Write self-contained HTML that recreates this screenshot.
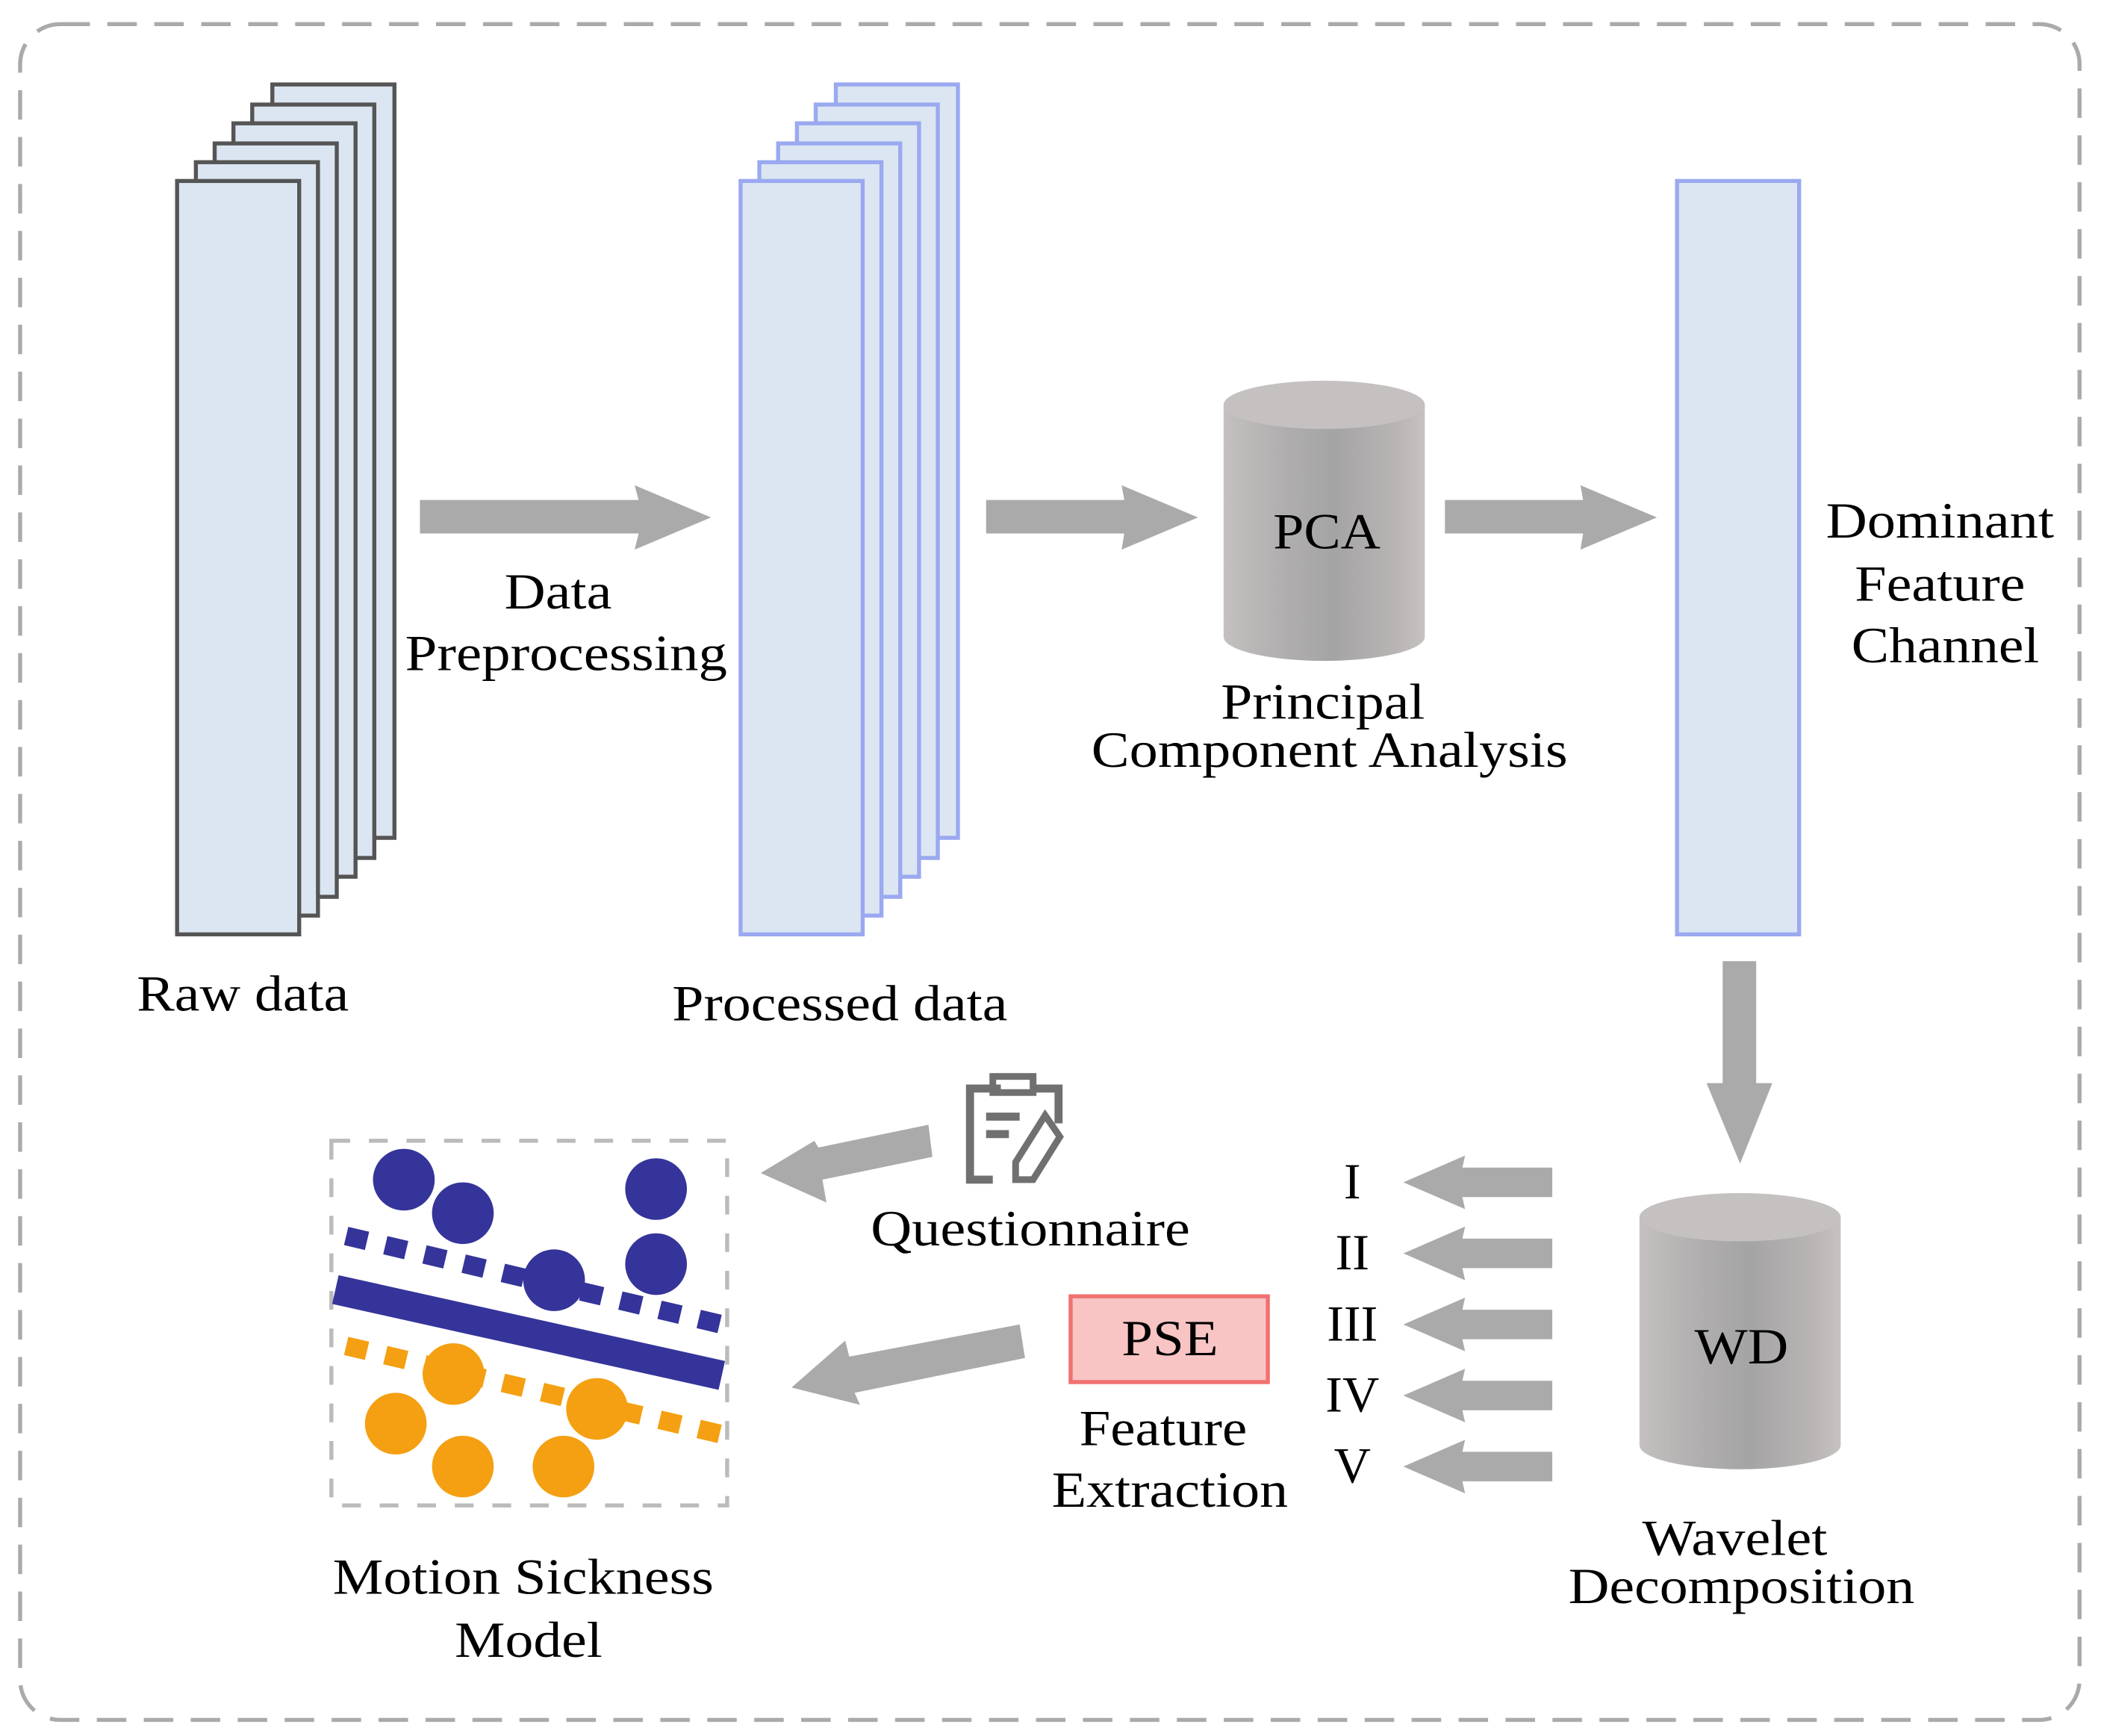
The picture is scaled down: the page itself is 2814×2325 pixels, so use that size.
<!DOCTYPE html>
<html><head><meta charset="utf-8"><style>html,body{margin:0;padding:0;background:#fff}svg{display:block}</style></head>
<body>
<svg width="2814" height="2325" viewBox="0 0 1566 1295" preserveAspectRatio="none" xmlns="http://www.w3.org/2000/svg">
<defs>
<linearGradient id="cyl" x1="0" x2="1" y1="0" y2="0">
<stop offset="0" stop-color="#c4c0c0"/><stop offset="0.3" stop-color="#b0aeae"/><stop offset="0.55" stop-color="#a5a4a5"/><stop offset="0.85" stop-color="#b8b4b4"/><stop offset="1" stop-color="#c6c2c2"/>
</linearGradient>
</defs>
<rect x="15" y="18" width="1535" height="1265" rx="30" fill="none" stroke="#aaa" stroke-width="3" stroke-dasharray="22,13"/>
<g fill="#dce6f2" stroke="#555" stroke-width="3">
<rect x="203" y="63" width="91" height="562"/><rect x="188" y="78" width="91" height="562"/><rect x="174" y="92" width="91" height="562"/><rect x="160" y="107" width="91" height="562"/><rect x="146" y="121" width="91" height="562"/><rect x="132" y="135" width="91" height="562"/>
</g>
<g fill="#dce6f2" stroke="#9aa9f0" stroke-width="3">
<rect x="623" y="63" width="91" height="562"/><rect x="608" y="78" width="91" height="562"/><rect x="594" y="92" width="91" height="562"/><rect x="580" y="107" width="91" height="562"/><rect x="566" y="121" width="91" height="562"/><rect x="552" y="135" width="91" height="562"/>
<rect x="1250" y="135" width="91" height="562"/>
</g>
<g fill="#aaaaaa">
<polygon points="313,373 476,373 473,362 530,386 473,410 476,398 313,398"/>
<polygon points="735,373 838,373 836,362 893,386 836,410 838,398 735,398"/>
<polygon points="1077,373 1180,373 1178,362 1235,386 1178,410 1180,398 1077,398"/>
<polygon points="1284,717 1309,717 1309,808 1321,808 1297,868 1272,808 1284,808"/>
<g id="la"><polygon points="1157,871 1090,871 1092,862 1046,882 1092,902 1090,893 1157,893"/></g>
<use href="#la" y="53"/><use href="#la" y="106"/><use href="#la" y="159"/><use href="#la" y="212"/>
<polygon points="692,839 695,863 613,880 616,897 567,875 607,851 610,856"/>
<polygon points="760,988 764,1013 637,1039 641,1048 590,1035 630,1000 633,1012"/>
</g>
<path d="M912,302 L912,475 A75,18 0 0 0 1062,475 L1062,302 Z" fill="url(#cyl)"/>
<ellipse cx="987" cy="302" rx="75" ry="18" fill="#c5c1c1"/>
<path d="M1222,908 L1222,1078 A75,18 0 0 0 1372,1078 L1372,908 Z" fill="url(#cyl)"/>
<ellipse cx="1297" cy="908" rx="75" ry="18" fill="#c5c1c1"/>
<g fill="none" stroke="#707070" stroke-width="6">
<path d="M746,812 L723,812 L723,880 L740,880"/><path d="M770,812 L789,812 L789,838"/>
<rect x="740" y="803" width="30" height="12" stroke-width="5"/>
<line x1="735" y1="833" x2="760" y2="833"/><line x1="735" y1="846" x2="752" y2="846"/>
<path d="M779,832 L790,848 L770,880 L757,880 L757,867 Z" stroke-width="5"/>
</g>
<rect x="798" y="967" width="147" height="64" fill="#f8c4c4" stroke="#f07070" stroke-width="3"/>
<rect x="247" y="851" width="295" height="272" fill="none" stroke="#bbb" stroke-width="3" stroke-dasharray="14,14"/>
<line x1="258" y1="922" x2="538" y2="988" stroke="#35349a" stroke-width="14" stroke-dasharray="16,14"/>
<line x1="250" y1="962" x2="538" y2="1026" stroke="#35349a" stroke-width="22"/>
<line x1="258" y1="1004" x2="538" y2="1070" stroke="#f4a012" stroke-width="14" stroke-dasharray="16,14"/>
<g fill="#35349a"><circle cx="301" cy="880" r="23"/><circle cx="345" cy="905" r="23"/><circle cx="489" cy="887" r="23"/><circle cx="489" cy="943" r="23"/><circle cx="413" cy="955" r="23"/></g>
<g fill="#f4a012"><circle cx="338" cy="1025" r="23"/><circle cx="445" cy="1051" r="23"/><circle cx="295" cy="1062" r="23"/><circle cx="345" cy="1094" r="23"/><circle cx="420" cy="1094" r="23"/></g>
<g font-family="'Liberation Serif',serif" font-size="38" fill="#000" text-anchor="middle">
<text x="181" y="754" textLength="158" lengthAdjust="spacingAndGlyphs">Raw data</text>
<text x="416" y="454" textLength="80" lengthAdjust="spacingAndGlyphs">Data</text>
<text x="422" y="500" textLength="240" lengthAdjust="spacingAndGlyphs">Preprocessing</text>
<text x="626" y="761" textLength="250" lengthAdjust="spacingAndGlyphs">Processed data</text>
<text x="989" y="409" textLength="80" lengthAdjust="spacingAndGlyphs">PCA</text>
<text x="986" y="536" textLength="152" lengthAdjust="spacingAndGlyphs">Principal</text>
<text x="991" y="572" textLength="355" lengthAdjust="spacingAndGlyphs">Component Analysis</text>
<text x="1446" y="401" textLength="170" lengthAdjust="spacingAndGlyphs">Dominant</text>
<text x="1446" y="448" textLength="127" lengthAdjust="spacingAndGlyphs">Feature</text>
<text x="1450" y="494" textLength="140" lengthAdjust="spacingAndGlyphs">Channel</text>
<text x="1298" y="1017" textLength="70" lengthAdjust="spacingAndGlyphs">WD</text>
<text x="1293" y="1160" textLength="138" lengthAdjust="spacingAndGlyphs">Wavelet</text>
<text x="1298" y="1196" textLength="258" lengthAdjust="spacingAndGlyphs">Decomposition</text>
<text x="768" y="929" textLength="238" lengthAdjust="spacingAndGlyphs">Questionnaire</text>
<text x="872" y="1011" textLength="72" lengthAdjust="spacingAndGlyphs">PSE</text>
<text x="867" y="1078" textLength="125" lengthAdjust="spacingAndGlyphs">Feature</text>
<text x="872" y="1124" textLength="176" lengthAdjust="spacingAndGlyphs">Extraction</text>
<text x="390" y="1189" textLength="284" lengthAdjust="spacingAndGlyphs">Motion Sickness</text>
<text x="394" y="1236" textLength="110" lengthAdjust="spacingAndGlyphs">Model</text>
<text x="1008" y="894">I</text>
<text x="1008" y="947">II</text>
<text x="1008" y="1000">III</text>
<text x="1008" y="1053">IV</text>
<text x="1008" y="1106">V</text>
</g>
</svg>
</body></html>
